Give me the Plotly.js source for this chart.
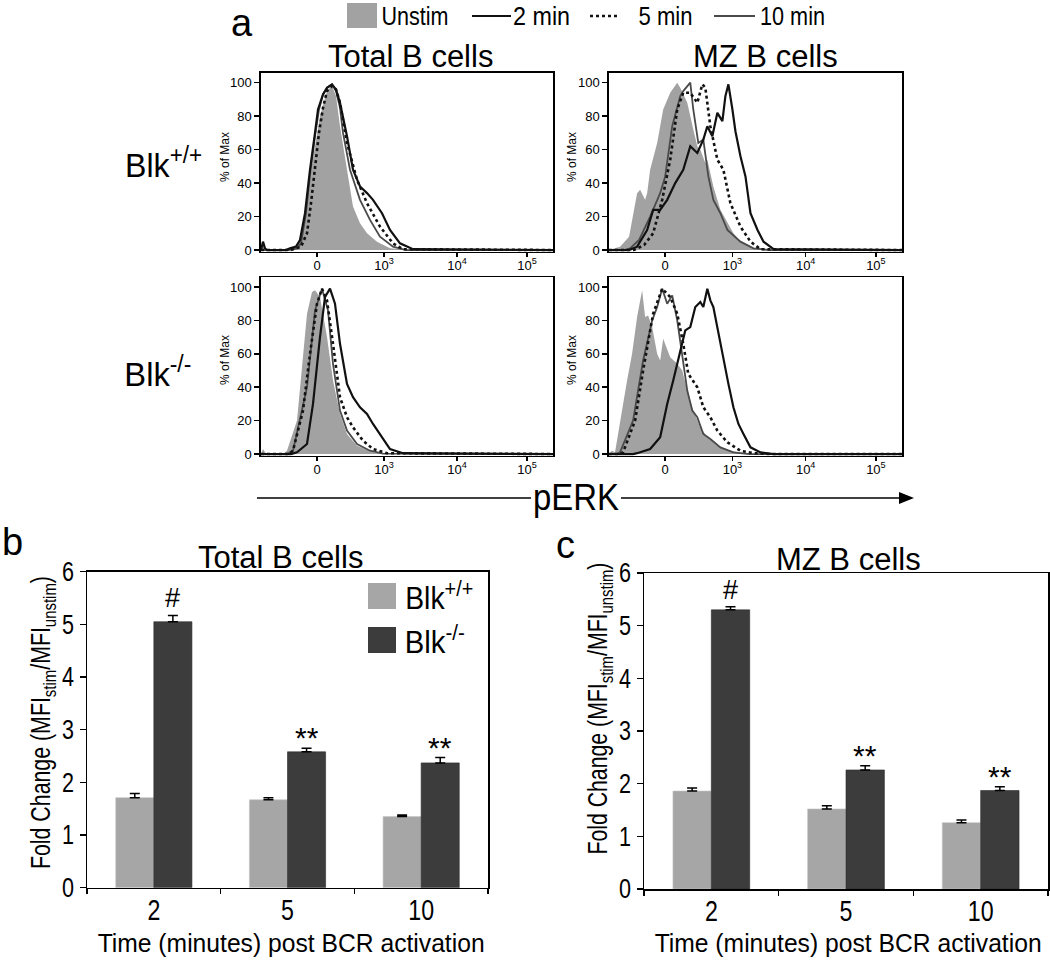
<!DOCTYPE html>
<html><head><meta charset="utf-8">
<script src="https://cdn.plot.ly/plotly-3.0.1.min.js"></script>
<style>body{margin:0;background:#fff}#chart{width:1050px;height:960px}</style>
</head><body><div id="chart"></div><script>
// ---------- Histogram data (x in display channels of the biexponential pERK axis, y = % of Max) ----------
const histTickVals = [56, 123, 196, 266];
const histTickText = ['0', '10<sup>3</sup>', '10<sup>4</sup>', '10<sup>5</sup>'];
const histMinorVals = [10,16,23,32,44,50,53, 62,68,80,89,96,102,107,112,117,121, 145,159,168,175,181,186,190,193, 217,230,238,245,251,255,259,263, 285];
const histYTicks = [0, 20, 40, 60, 80, 100];
const histYMinor = [4,8,12,16,24,28,32,36,44,48,52,56,64,68,72,76,84,88,92,96,104];

// Total B cells, Blk+/+
const tlUnstimX = [0,2,4,6,30,36,40,46,52,59,66,71,75,79,86,92,99,106,116,129,150,292];
const tlUnstimY = [0,4,1,0,0,2,10,30,55,80,95,98,92,74,48,26,16,10,5,1,0,0];
const tl10X = [0,28,36,40,45,49,54,58,62,66,71,75,79,82,89,99,109,119,132,145,292];
const tl10Y = [0,0,1,4,22,45,68,84,93,97,99,95,85,70,48,30,18,8,2,0,0];
const tl5X = [0,30,40,46,50,54,58,62,66,71,75,79,86,96,106,119,132,142,292];
const tl5Y = [0,0,2,10,28,50,70,85,95,98,96,88,64,42,28,14,4,0.5,0];
const tl2X = [0,2,4,6,25,29,35,39,44,49,54,57,62,66,71,75,79,86,92,99,106,112,121,129,139,152,292];
const tl2Y = [0,5,1,0,0,1,2,6,22,48,70,84,93,97,99,96,88,68,48,38,34,30,22,12,4,0.5,0];

// MZ B cells, Blk+/+
const trUnstimX = [0,5,11,20,28,31,36,38,41,48,54,61,68,71,78,84,88,91,96,98,104,111,118,124,131,144,160,292];
const trUnstimY = [0,1,2,8,34,36,30,34,48,64,84,94,100,97,88,72,62,60,52,54,38,24,16,10,5,1,0,0];
const tr10X = [0,15,21,30,41,51,56,63,71,74,81,84,89,94,99,104,111,118,131,144,160,292];
const tr10Y = [0,0,1,6,20,34,44,74,92,95,100,84,64,66,44,30,22,12,5,1,0,0];
const tr5X = [0,25,35,44,53,61,68,74,81,88,93,96,101,108,114,121,131,141,151,292];
const tr5Y = [0,0,3,10,30,54,84,94,94,88,99,97,74,54,48,28,14,5,0.5,0];
const tr2X = [0,20,28,38,44,51,58,66,74,81,88,94,98,103,108,113,116,119,123,126,131,136,141,148,154,164,292];
const tr2Y = [0,0,2,12,24,24,30,40,48,62,58,66,74,68,82,77,92,99,84,71,56,44,22,12,5,0.5,0];

// Total B cells, Blk-/-
const blUnstimX = [0,2,4,6,22,26,36,41,46,51,54,59,66,72,79,86,96,112,130,292];
const blUnstimY = [0,3,1,0,0,2,20,50,84,97,98,94,70,44,24,12,5,1,0,0];
const bl10X = [0,26,32,46,54,61,67,72,79,86,96,109,122,292];
const bl10Y = [0,0,2,40,86,99,86,54,26,14,6,2,0.3,0];
const bl5X = [0,28,32,42,49,56,61,66,72,79,86,92,102,112,126,292];
const bl5Y = [0,0,2,26,60,90,99,92,66,34,22,16,8,3,0.5,0];
const bl2X = [0,30,36,46,52,59,64,69,74,79,86,92,99,106,112,121,129,142,292];
const bl2Y = [0,0,1,6,30,70,94,99,90,66,42,34,28,24,18,10,3,0.5,0];

// MZ B cells, Blk-/-
const brUnstimX = [0,3,6,11,18,23,28,33,36,39,43,48,51,54,58,61,68,73,78,84,91,98,108,121,138,292];
const brUnstimY = [0,2,1,20,44,60,82,98,82,83,76,60,56,69,62,58,54,50,38,26,16,10,5,2,0,0];
const br10X = [0,8,11,24,34,43,48,53,58,63,68,73,78,83,88,94,101,111,124,140,292];
const br10Y = [0,0,1,20,56,80,88,99,90,95,80,58,38,26,22,12,9,4,1,0,0];
const br5X = [0,10,14,26,34,44,53,61,68,74,79,88,94,101,108,118,131,144,160,292];
const br5Y = [0,0,1,20,50,84,99,94,84,66,48,40,28,22,14,7,2,0.5,0,0];
const br2X = [0,24,28,41,51,58,64,71,76,81,86,91,94,98,101,104,109,114,119,124,129,134,141,151,164,292];
const br2Y = [0,0,0.5,3,10,30,44,62,74,76,88,91,88,99,92,88,72,56,42,28,18,12,4,1,0,0];

// ---------- Bar chart data ----------
const timeCats = ['2', '5', '10'];
const totalWT = [1.71, 1.67, 1.35];
const totalWTErr = [0.08, 0.04, 0.03];
const totalKO = [5.05, 2.58, 2.37];
const totalKOErr = [0.12, 0.07, 0.10];
const mzWT = [1.86, 1.52, 1.26];
const mzWTErr = [0.06, 0.06, 0.05];
const mzKO = [5.30, 2.26, 1.87];
const mzKOErr = [0.06, 0.08, 0.07];
const sigMarks = ['#', '**', '**'];

// ---------- helpers ----------
const W = 1050, H = 960;
const ARIAL = 'Liberation Sans, Arial, Helvetica, sans-serif';
const dx = (a, b) => [a / W, b / W];
const dy = (top, bottom) => [1 - bottom / H, 1 - top / H];
const px = v => v / W, py = v => 1 - v / H;

const UNSTIM_COL = '#a2a2a2', C10 = '#4a4a4a', C5 = '#111111', C2 = '#111111';
const traces = [];
function addHist(n, ux, uy, x10, y10, x5, y5, x2, y2) {
  const ax = { xaxis: 'x' + n, yaxis: 'y' + n, hoverinfo: 'skip', showlegend: false, mode: 'lines', type: 'scatter' };
  traces.push(Object.assign({ x: ux, y: uy, fill: 'tozeroy', fillcolor: UNSTIM_COL, line: { width: 0, color: UNSTIM_COL }, name: 'Unstim' }, ax));
  traces.push(Object.assign({ x: x10, y: y10, line: { width: 1.8, color: C10 }, name: '10 min' }, ax));
  traces.push(Object.assign({ x: x5, y: y5, line: { width: 2.6, color: C5, dash: 'dot' }, name: '5 min' }, ax));
  traces.push(Object.assign({ x: x2, y: y2, line: { width: 2.2, color: C2 }, name: '2 min' }, ax));
}
addHist(1, tlUnstimX, tlUnstimY, tl10X, tl10Y, tl5X, tl5Y, tl2X, tl2Y);
addHist(2, trUnstimX, trUnstimY, tr10X, tr10Y, tr5X, tr5Y, tr2X, tr2Y);
addHist(3, blUnstimX, blUnstimY, bl10X, bl10Y, bl5X, bl5Y, bl2X, bl2Y);
addHist(4, brUnstimX, brUnstimY, br10X, br10Y, br5X, br5Y, br2X, br2Y);

function addBars(n, wt, wtErr, ko, koErr) {
  const common = { type: 'bar', x: timeCats, xaxis: 'x' + n, yaxis: 'y' + n, showlegend: false, hoverinfo: 'skip' };
  traces.push(Object.assign({ y: wt, name: 'Blk+/+', marker: { color: '#a6a6a6', line: { color: '#c4c4c4', width: 0.6 } },
    error_y: { type: 'data', symmetric: false, array: wtErr, arrayminus: wt.map(() => 0), color: '#000', thickness: 1.5, width: 5 } }, common));
  traces.push(Object.assign({ y: ko, name: 'Blk-/-', marker: { color: '#3c3c3c', line: { color: '#2a2a2a', width: 0.6 } },
    error_y: { type: 'data', symmetric: false, array: koErr, arrayminus: ko.map(() => 0), color: '#000', thickness: 1.5, width: 5 } }, common));
}
addBars(5, totalWT, totalWTErr, totalKO, totalKOErr);
addBars(6, mzWT, mzWTErr, mzKO, mzKOErr);

function histX(n, dom) {
  return { domain: dom, anchor: 'y' + n, range: [0, 292], tickmode: 'array', tickvals: histTickVals, ticktext: histTickText,
    ticks: 'outside', ticklen: 4, tickwidth: 1.5, tickcolor: '#000', showline: true, mirror: true, linecolor: '#000', linewidth: 1.6,
    showgrid: false, zeroline: false, fixedrange: true, ticklabelstandoff: -3, tickfont: { size: 13, family: ARIAL, color: '#000' } };
}
function histY(n, dom) {
  return { domain: dom, anchor: 'x' + n, range: [-1, 105.8], tickmode: 'array', tickvals: histYTicks,
    ticks: 'outside', ticklen: 5, tickwidth: 1.5, tickcolor: '#000', showline: true, mirror: true, linecolor: '#000', linewidth: 1.6,
    showgrid: false, zeroline: false, fixedrange: true, tickfont: { size: 13, family: ARIAL, color: '#000' } };
}
// unlabeled overlay axes that only carry the small minor tick marks
function minorX(n, dom) {
  return { domain: dom, overlaying: 'x' + n, anchor: 'y' + n, range: [0, 292], tickmode: 'array', tickvals: histMinorVals,
    ticks: 'outside', ticklen: 2.5, tickwidth: 1, tickcolor: '#000', showticklabels: false, showline: false, showgrid: false,
    zeroline: false, fixedrange: true };
}
function minorY(n, dom) {
  return { domain: dom, overlaying: 'y' + n, anchor: 'x' + n, range: [-1, 105.8], tickmode: 'array', tickvals: histYMinor,
    ticks: 'outside', ticklen: 2, tickwidth: 1, tickcolor: '#000', showticklabels: false, showline: false, showgrid: false,
    zeroline: false, fixedrange: true };
}
function barX(n, dom) {
  return { domain: dom, anchor: 'y' + n, type: 'category', range: [-0.5, 2.5], tickson: 'boundaries', ticks: 'outside', ticklen: 5, tickwidth: 1.5,
    tickcolor: '#000', showline: true, mirror: true, linecolor: '#000', linewidth: 1.5, showgrid: false, fixedrange: true,
    ticklabelstandoff: -4, tickfont: { size: 29, family: ARIAL, color: '#000' } };
}
function barY(n, dom) {
  return { domain: dom, anchor: 'x' + n, range: [0, 6], dtick: 1, ticks: 'outside', ticklen: 6, tickwidth: 1.5, tickcolor: '#000',
    showline: true, mirror: true, linecolor: '#000', linewidth: 1.5, showgrid: false, zeroline: false, fixedrange: true,
    tickfont: { size: 27, family: ARIAL, color: '#000' } };
}

// narrowTo: target rendered width (px) for the condensed typeface look of the original
const narrowTo = {};
const annotations = [];
function ann(text, x, y, size, opts, targetW) {
  if (targetW) narrowTo[annotations.length] = targetW;
  annotations.push(Object.assign({ text: text, x: px(x), y: py(y), xref: 'paper', yref: 'paper', showarrow: false,
    xanchor: 'center', yanchor: 'middle', font: { size: size, family: ARIAL, color: '#000' } }, opts || {}));
}
ann('a', 242, 0, 38, { yanchor: 'top' });
ann('Unstim', 415, 16, 25, null, 67);
ann('2 min', 541, 16, 25, null, 57);
ann('5 min', 665, 16, 25, null, 54);
ann('10 min', 792, 16, 25, null, 65);
ann('Total B cells', 410, 56, 31);
ann('MZ B cells', 765, 56, 31);
ann('Blk<sup>+/+</sup>', 163, 163, 33, null, 77);
ann('Blk<sup>-/-</sup>', 158, 372, 33, null, 67);
ann('% of Max', 225, 157, 12, { textangle: -90 });
ann('% of Max', 572, 157, 12, { textangle: -90 });
ann('% of Max', 225, 360, 12, { textangle: -90 });
ann('% of Max', 572, 360, 12, { textangle: -90 });
ann('pERK', 576, 497, 36, { bgcolor: '#ffffff', borderpad: 1 }, 86);
ann('b', 12, 542, 38);
ann('c', 565, 545, 38);
ann('Total B cells', 280, 557, 31);
ann('MZ B cells', 848, 559, 31);
ann('Fold Change (MFI<sub>stim</sub>/MFI<sub>unstim</sub>)', 43, 723, 27, { textangle: -90 }, 293);
ann('Fold Change (MFI<sub>stim</sub>/MFI<sub>unstim</sub>)', 600, 709, 27, { textangle: -90 }, 292);
ann('Time (minutes) post BCR activation', 291, 943, 25, null, 387);
ann('Time (minutes) post BCR activation', 848, 943, 25, null, 387);
ann('Blk<sup>+/+</sup>', 439, 596, 31, null, 68);
ann('Blk<sup>-/-</sup>', 435, 640, 31, null, 60);

// significance marks above the Blk-/- bars (x given as category index)
[[5, totalKO, totalKOErr], [6, mzKO, mzKOErr]].forEach(([n, v, e]) => {
  timeCats.forEach((c, i) => {
    const isHash = sigMarks[i] === '#';
    annotations.push({ text: sigMarks[i], x: i, y: v[i] + e[i], xref: 'x' + n, yref: 'y' + n, xshift: 19,
      yshift: isHash ? 0 : -8, showarrow: false, xanchor: 'center', yanchor: 'bottom',
      font: { size: isHash ? 27 : 30, family: ARIAL, color: '#000' } });
  });
});

function line(x0, y0, x1, y1, color, width, dash) {
  return { type: 'line', xref: 'paper', yref: 'paper', x0: px(x0), y0: py(y0), x1: px(x1), y1: py(y1),
    line: { color: color, width: width, dash: dash || 'solid' } };
}
function rect(x0, y0, x1, y1, color) {
  return { type: 'rect', xref: 'paper', yref: 'paper', x0: px(x0), y0: py(y0), x1: px(x1), y1: py(y1),
    fillcolor: color, line: { width: 0 } };
}
const shapes = [
  rect(347, 3, 377, 28, UNSTIM_COL),
  line(472, 16, 511, 16, C2, 2.2),
  line(590, 16, 620, 16, C5, 2.6, 'dot'),
  line(714, 16, 755, 16, C10, 1.8),
  line(257, 498, 904, 498, '#000', 1.6),
  { type: 'path', xref: 'paper', yref: 'paper', path: `M ${px(899)} ${py(492)} L ${px(914)} ${py(498)} L ${px(899)} ${py(504)} Z`,
    fillcolor: '#000', line: { width: 0 } },
  rect(368, 583, 396, 609, '#a6a6a6'),
  rect(368, 627, 396, 653, '#3c3c3c')
];

const histDom = [
  [dx(261, 553), dy(73, 251.7)], [dx(609, 902), dy(73, 251.7)],
  [dx(261, 553), dy(277.3, 455.7)], [dx(609, 902), dy(277.3, 455.7)]
];
const layout = {
  width: W, height: H, margin: { l: 0, r: 0, t: 0, b: 0 }, paper_bgcolor: '#fff', plot_bgcolor: '#fff',
  showlegend: false, barmode: 'group', bargap: 0.43, bargroupgap: 0,
  font: { family: ARIAL, color: '#000' },
  xaxis5: barX(5, dx(87, 488)), yaxis5: barY(5, dy(571.7, 887.7)),
  xaxis6: barX(6, dx(644, 1048)), yaxis6: barY(6, dy(573, 889)),
  annotations: annotations, shapes: shapes
};
histDom.forEach(([xd, yd], k) => {
  const n = k + 1, sx = n === 1 ? '' : n;
  layout['xaxis' + sx] = histX(n, xd);
  layout['yaxis' + sx] = histY(n, yd);
  layout['xaxis' + (6 + n)] = minorX(n, xd);
  layout['yaxis' + (6 + n)] = minorY(n, yd);
  layout['xaxis' + (6 + n)].overlaying = 'x' + sx;
  layout['xaxis' + (6 + n)].anchor = 'y' + sx;
  layout['yaxis' + (6 + n)].overlaying = 'y' + sx;
  layout['yaxis' + (6 + n)].anchor = 'x' + sx;
  layout['xaxis' + sx].anchor = 'y' + sx;
  layout['yaxis' + sx].anchor = 'x' + sx;
});

// give selected texts the condensed look of the original typeface (real text, squeezed horizontally)
function squeeze(t, target) {
  t.setAttribute('textLength', target);
  t.setAttribute('lengthAdjust', 'spacingAndGlyphs');
}
function condense() {
  const gd = document.getElementById('chart');
  gd.querySelectorAll('g.annotation').forEach(g => {
    const i = +g.getAttribute('data-index');
    const target = narrowTo[i];
    if (!target) return;
    const t = g.querySelector('text.annotation-text');
    if (!t || t.getAttribute('textLength')) return;
    squeeze(t, target);
    const bg = g.querySelector('rect.bg');
    if (bg) {
      const w0 = parseFloat(bg.getAttribute('width')), x0 = parseFloat(bg.getAttribute('x')) || 0;
      const w1 = Math.min(w0, target + 4);
      bg.setAttribute('width', w1);
      bg.setAttribute('x', x0 + (w0 - w1) / 2);
    }
  });
  gd.querySelectorAll('text').forEach(t => {
    const p = t.parentNode;
    if (!p || !p.getAttribute) return;
    const cls = p.getAttribute('class') || '';
    if (!/\b(x5|x6|y5|y6)tick\b/.test(cls) || t.getAttribute('textLength')) return;
    const w = t.getComputedTextLength();
    if (w > 0) squeeze(t, w * 0.8);
  });
}
const gdEl = document.getElementById('chart');
Plotly.newPlot(gdEl, traces, layout, { displayModeBar: false, staticPlot: true }).then(() => {
  condense();
  gdEl.on('plotly_afterplot', condense);
});
</script></body></html>
